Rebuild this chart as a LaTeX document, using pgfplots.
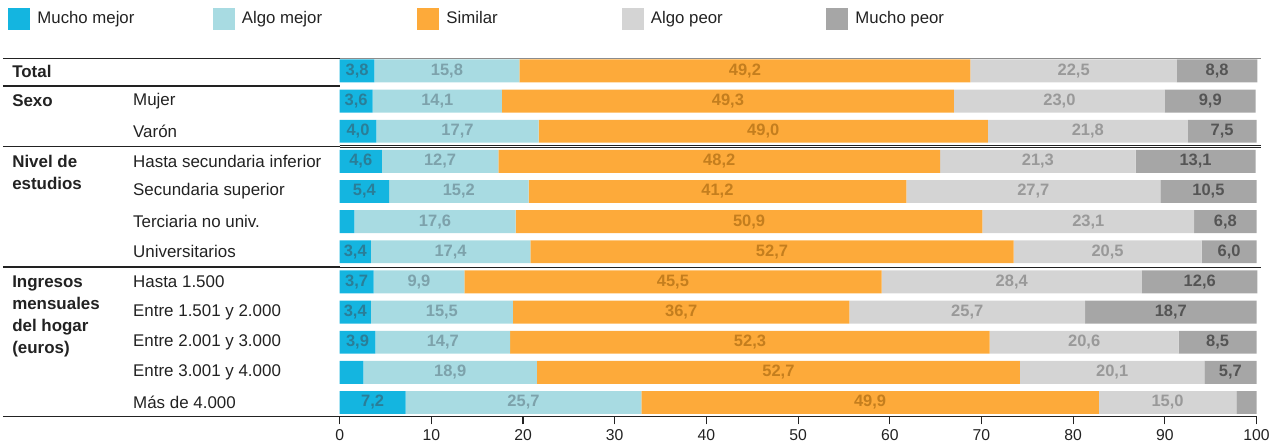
\documentclass[border=0pt]{standalone}
\usepackage{pgfplots}
\pgfplotsset{compat=1.18}
\usepackage{pgfplotstable}
\usepackage{fontspec}
\setmainfont{Liberation Sans}

\definecolor{cMM}{HTML}{14B5E0}
\definecolor{cAM}{HTML}{A8DBE2}
\definecolor{cSI}{HTML}{FDAA3A}
\definecolor{cAP}{HTML}{D4D4D4}
\definecolor{cMP}{HTML}{A6A6A6}
\definecolor{tMM}{HTML}{2A7E98}
\definecolor{tAM}{HTML}{7DA2AB}
\definecolor{tSI}{HTML}{C47E1E}
\definecolor{tAP}{HTML}{999999}
\definecolor{tMP}{HTML}{555555}
\definecolor{rule}{HTML}{222222}

% porcentajes por fila: mucho mejor, algo mejor, similar, algo peor, mucho peor
\pgfplotstableread{
row mm am si ap mp
0  3.8 15.8 49.2 22.5 8.8
1  3.6 14.1 49.3 23.0 9.9
2  4.0 17.7 49.0 21.8 7.5
3  4.6 12.7 48.2 21.3 13.1
4  5.4 15.2 41.2 27.7 10.5
5  1.6 17.6 50.9 23.1 6.8
6  3.4 17.4 52.7 20.5 6.0
7  3.7 9.9  45.5 28.4 12.6
8  3.4 15.5 36.7 25.7 18.7
9  3.9 14.7 52.3 20.6 8.5
10 2.6 18.9 52.7 20.1 5.7
11 7.2 25.7 49.9 15.0 2.2
}\datatable

\pgfplotsset{
  seg/.style n args={3}{
    fill=#2, draw=none,
    visualization depends on={\thisrow{#1} \as \rawval},
    nodes near coords={\ifdim\rawval pt<3pt\relax\else\pgfmathprintnumber[fixed,fixed zerofill,precision=1,use comma]{\rawval}\fi},
    nodes near coords align={center},
    every node near coord/.style={
      font=\bfseries\fontsize{11}{13}\selectfont, text=#3, inner sep=0pt},
  },
}

\begin{document}
\begin{tikzpicture}
\begin{axis}[
  name=ax,
  scale only axis, width=612pt, height=239pt,
  xbar stacked, bar width=0.76,
  xmin=0, xmax=100, ymin=-0.42, ymax=11.46, y dir=reverse,
  clip=false,
  axis x line*=bottom, axis y line*=left,
  x axis line style={-, draw=rule, line width=1pt},
  y axis line style={draw=none},
  xtick={0,10,...,100}, tick align=outside, major tick length=5.3pt,
  xtick style={draw=rule, line width=0.8pt},
  ytick={1,...,11},
  yticklabels={Mujer,Varón,Hasta secundaria inferior,Secundaria superior,Terciaria no univ.,Universitarios,Hasta 1.500,Entre 1.501 y 2.000,Entre 2.001 y 3.000,Entre 3.001 y 4.000,Más de 4.000},
  ytick style={draw=none},
  yticklabel style={anchor=west, xshift=-132.7pt, inner xsep=0pt, font=\fontsize{11.3}{13.5}\selectfont, text=rule},
  xticklabel style={font=\fontsize{10.5}{12}\selectfont, text=rule, yshift=0pt},
  /pgf/number format/assume math mode=true,
  legend columns=5,
  legend cell align=left,
  legend style={at={(0,1)}, anchor=north west, xshift=-221.3pt, yshift=34pt,
    draw=none, fill=none, inner sep=0pt,
    font=\fontsize{11.2}{13}\selectfont, text=rule,
    /tikz/every odd column/.append style={column sep=2.7pt}},
  legend image code/.code={\draw[#1, draw=none] (0pt,-7.35pt) rectangle (14.7pt,7.35pt);},
]
\addplot[seg={mm}{cMM}{tMM}] table[x=mm,y=row]{\datatable};
\addlegendentry{\makebox[115.1pt][l]{Mucho mejor}}
\addplot[seg={am}{cAM}{tAM}] table[x=am,y=row]{\datatable};
\addlegendentry{\makebox[115.1pt][l]{Algo mejor}}
\addplot[seg={si}{cSI}{tSI}] table[x=si,y=row]{\datatable};
\addlegendentry{\makebox[115.1pt][l]{Similar}}
\addplot[seg={ap}{cAP}{tAP}] table[x=ap,y=row]{\datatable};
\addlegendentry{\makebox[115.1pt][l]{Algo peor}}
\addplot[seg={mp}{cMP}{tMP}] table[x=mp,y=row]{\datatable};
\addlegendentry{\makebox[115.1pt][l]{Mucho peor}}

% lineas separadoras
\draw[rule, line width=1pt] ([xshift=-224.7pt]axis cs:0,-0.42) -- (axis cs:0,-0.42);
\draw[black!45, line width=0.8pt] (axis cs:0,-0.42) -- ([xshift=2.7pt]axis cs:100,-0.42);
\pgfplotsinvokeforeach{0.5,2.5,6.5}{
  \draw[rule, line width=1pt] ([xshift=-224.7pt]axis cs:0,#1) -- (axis cs:0,#1);
  \draw[rule, double=white, double distance=0.7pt, line width=0.5pt] (axis cs:0,#1) -- ([xshift=2.7pt]axis cs:100,#1);
}
\draw[rule, line width=1pt] ([xshift=-224.7pt]axis cs:0,11.46) -- (axis cs:0,11.46);

% grupos
\node[anchor=west, inner sep=0pt, font=\bfseries\fontsize{11.3}{13.5}\selectfont, text=rule] at ([xshift=-218.7pt]axis cs:0,0) {Total};
\node[anchor=west, inner sep=0pt, font=\bfseries\fontsize{11.3}{13.5}\selectfont, text=rule] at ([xshift=-218.7pt]axis cs:0,1) {Sexo};
\node[anchor=north west, align=left, inner sep=0pt, font=\bfseries\fontsize{11.3}{14.5}\selectfont, text=rule] at ([xshift=-218.7pt,yshift=4.3pt]axis cs:0,3) {Nivel de\\estudios};
\node[anchor=north west, align=left, inner sep=0pt, font=\bfseries\fontsize{11.3}{14.7}\selectfont, text=rule] at ([xshift=-218.7pt,yshift=4.3pt]axis cs:0,7) {Ingresos\\mensuales\\del hogar\\(euros)};
\end{axis}
\pgfresetboundingbox
\useasboundingbox ([xshift=-226.7pt,yshift=-17.5pt]ax.south west) rectangle ([xshift=620.3pt,yshift=277.9pt]ax.south west);
\end{tikzpicture}
\end{document}
